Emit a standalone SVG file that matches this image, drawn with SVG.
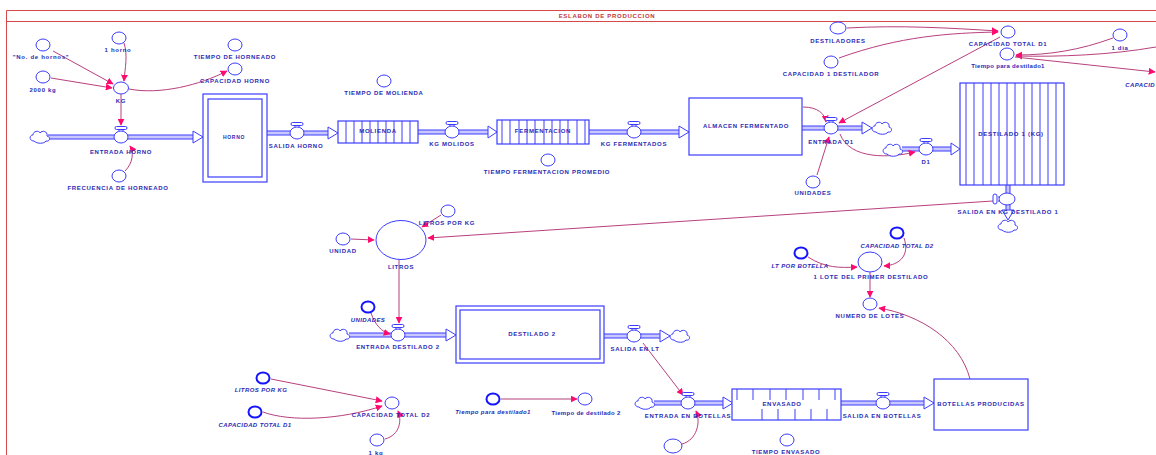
<svg xmlns="http://www.w3.org/2000/svg" width="1156" height="455" viewBox="0 0 1156 455">
<style>
.t{font-family:"Liberation Sans",Arial,sans-serif;font-size:6px;font-weight:bold;fill:#2a2ab4;letter-spacing:0.7px;text-anchor:middle}
.i{font-style:italic;letter-spacing:0.4px}
.aux{fill:#fff;stroke:#3c3cff;stroke-width:1}
.gh{fill:#fff;stroke:#1414ff;stroke-width:2}
.lk{fill:none;stroke:#b8407e;stroke-width:1;marker-end:url(#ah)}
.po{stroke:#3c3cff;stroke-width:5;fill:none}
.pi{stroke:#c8c8ff;stroke-width:3;fill:none}
.fa{fill:#fff;stroke:#3c3cff;stroke-width:1}
.st{fill:#fff;stroke:#3c3cff;stroke-width:1.2}
.cv{stroke:#3c3cff;stroke-width:1;fill:none}
</style>
<defs>
<marker id="ah" viewBox="0 0 10 10" refX="9" refY="5" markerWidth="7" markerHeight="7" orient="auto" markerUnits="userSpaceOnUse"><path d="M0,0 L10,5 L0,10 z" fill="#ff0a6e"/></marker>
<g id="valve" class="aux"><path d="M-2,-7.5v2.5M2,-7.5v2.5"/><rect x="-6" y="-10.5" width="12" height="3" rx="1.5"/><ellipse rx="7" ry="6"/></g>
<path id="cloud" class="aux" d="M-6,4 C-11,4 -11,-2 -7,-2 C-7,-6 -1,-7 0,-4 C2,-7 8,-6 7,-1 C11,0 10,5 6,4 C4,7 -3,7 -6,4 Z"/>
</defs>
<rect width="1156" height="455" fill="#fff"/>
<g id="frame">
<path d="M6.5,455 V10.5 H1156 M6.5,21.5 H1156" stroke="#d84848" fill="none" stroke-width="1"/>
<text x="607" y="18" class="t" style="fill:#c03838">ESLABON DE PRODUCCION</text>
</g>
<g id="connectors">
<g id="flows">
<path class="po" d="M48,137H193M267,133H328M418,132H488M589,132H679M802,128H862M902,149H951M1008,185V210M349,335H446M604,336H660M654,403H723M841,403H924"/>
<path class="pi" d="M48,137H193M267,133H328M418,132H488M589,132H679M802,128H862M902,149H951M1008,185V210M349,335H446M604,336H660M654,403H723M841,403H924"/>
<path class="fa" d="M193,131L203,137L193,143ZM328,127L338,133L328,139ZM488,126L497,132L488,138ZM679,126L689,132L679,138ZM862,122L872,128L862,134ZM951,143L960,149L951,155ZM1002,210L1008,220L1014,210ZM446,329L456,335L446,341ZM660,330L670,336L660,342ZM723,397L733,403L723,409ZM924,397L934,403L924,409Z"/>
</g>
<g id="links">
<path class="lk" d="M53,51 L113,84"/>
<path class="lk" d="M51,78 L112,88"/>
<path class="lk" d="M124,43 C128,55 125,68 124,81"/>
<path class="lk" d="M129,89 C160,95 200,85 227,71"/>
<path class="lk" d="M121,94 L121,125"/>
<path class="lk" d="M125,171 C133,163 134,152 130,146"/>
<path class="lk" d="M847,28 C900,25 950,28 998,31"/>
<path class="lk" d="M839,58 C900,36 950,33 998,32"/>
<path class="lk" d="M1000,37 L839,123"/>
<path class="lk" d="M1113,38 C1080,50 1050,55 1016,55"/>
<path class="lk" d="M1156,47 C1110,55 1060,57 1016,56"/>
<path class="lk" d="M1015,57 L1155,72"/>
<path class="lk" d="M803,107 C818,107 825,114 826,122"/>
<path class="lk" d="M817,175 L829,137"/>
<path class="lk" d="M840,134 C850,160 890,158 915,152"/>
<path class="lk" d="M993,201 L428,238"/>
<path class="lk" d="M441,215 L422,227"/>
<path class="lk" d="M351,239 L374,240"/>
<path class="lk" d="M399,260 L399,323"/>
<path class="lk" d="M371,313 C375,325 382,332 390,334"/>
<path class="lk" d="M643,343 L683,395"/>
<path class="lk" d="M682,444 C697,440 701,422 696,411"/>
<path class="lk" d="M970,379 C960,340 920,315 879,308"/>
<path class="lk" d="M808,257 C825,268 840,268 857,267"/>
<path class="lk" d="M904,238 C910,255 900,265 884,266"/>
<path class="lk" d="M870,272 L870,297"/>
<path class="lk" d="M271,379 L382,401"/>
<path class="lk" d="M263,412 C290,422 340,420 382,406"/>
<path class="lk" d="M385,439 C400,435 402,420 398,411"/>
<path class="lk" d="M501,399 L577,399"/>
</g>
</g>
<g id="clouds">
<use href="#cloud" x="40" y="137"/>
<use href="#cloud" x="882" y="128"/>
<use href="#cloud" x="893" y="150"/>
<use href="#cloud" x="1008" y="226"/>
<use href="#cloud" x="340" y="335"/>
<use href="#cloud" x="680" y="336"/>
<use href="#cloud" x="645" y="403"/>
</g>
<g id="n_hornos"><ellipse class="aux" cx="43" cy="45" rx="7" ry="6"/><text class="t" x="41" y="59">"No. de hornos"</text></g>
<g id="un_horno"><ellipse class="aux" cx="119" cy="38" rx="7" ry="6"/><text class="t" x="118" y="52">1 horno</text></g>
<g id="kg2000"><ellipse class="aux" cx="43" cy="77" rx="7" ry="6"/><text class="t" x="43" y="92">2000 kg</text></g>
<g id="kg"><ellipse class="aux" cx="121" cy="88" rx="7.5" ry="6"/><text class="t" x="121" y="103">KG</text></g>
<g id="tiempo_horneado"><ellipse class="aux" cx="235" cy="45" rx="7" ry="6"/><text class="t" x="235" y="59">TIEMPO DE HORNEADO</text></g>
<g id="capacidad_horno"><ellipse class="aux" cx="235" cy="69" rx="7" ry="6"/><text class="t" x="235" y="83">CAPACIDAD HORNO</text></g>
<g id="entrada_horno"><use href="#valve" x="121" y="137"/><text class="t" x="121" y="154">ENTRADA HORNO</text></g>
<g id="frecuencia"><ellipse class="aux" cx="119" cy="176" rx="7" ry="6"/><text class="t" x="118" y="190">FRECUENCIA DE HORNEADO</text></g>
<g id="horno"><rect class="st" x="203" y="94" width="64" height="88"/><rect class="st" x="208" y="99" width="54" height="78"/><text class="t" x="234" y="139" style="font-size:5px">HORNO</text></g>
<g id="salida_horno"><use href="#valve" x="297" y="133"/><text class="t" x="296" y="148">SALIDA HORNO</text></g>
<g id="tiempo_molienda"><ellipse class="aux" cx="384" cy="81" rx="7" ry="6"/><text class="t" x="384" y="95">TIEMPO DE MOLIENDA</text></g>
<g id="molienda"><rect class="st" x="338" y="121" width="80" height="22"/><path class="cv" d="M346,121v22M354,121v22M362,121v22M370,121v22M378,121v22M386,121v22M394,121v22M402,121v22M410,121v22"/><text class="t" x="378" y="133">MOLIENDA</text></g>
<g id="kg_molidos"><use href="#valve" x="452" y="132"/><text class="t" x="452" y="146">KG MOLIDOS</text></g>
<g id="fermentacion"><rect class="st" x="497" y="120" width="92" height="24"/><path class="cv" d="M502,120v24M510,120v24M519,120v24M527,120v24M535,120v24M544,120v24M552,120v24M560,120v24M568,120v24M577,120v24M585,120v24"/><text class="t" x="543" y="133">FERMENTACION</text></g>
<g id="tiempo_ferm"><ellipse class="aux" cx="548" cy="160" rx="7" ry="6"/><text class="t" x="547" y="174">TIEMPO FERMENTACION PROMEDIO</text></g>
<g id="kg_fermentados"><use href="#valve" x="634" y="132"/><text class="t" x="634" y="146">KG FERMENTADOS</text></g>
<g id="almacen"><rect class="st" x="689" y="98" width="113" height="57"/><text class="t" x="746" y="128">ALMACEN FERMENTADO</text></g>
<g id="entrada_d1"><use href="#valve" x="831" y="128"/><text class="t" x="831" y="144">ENTRADA D1</text></g>
<g id="unidades"><ellipse class="aux" cx="813" cy="182" rx="7" ry="6"/><text class="t" x="813" y="195">UNIDADES</text></g>
<g id="destiladores"><ellipse class="aux" cx="838" cy="28" rx="8" ry="6"/><text class="t" x="838" y="43">DESTILADORES</text></g>
<g id="cap1dest"><ellipse class="aux" cx="831" cy="62" rx="7" ry="6"/><text class="t" x="831" y="76">CAPACIDAD 1 DESTILADOR</text></g>
<g id="captotd1"><ellipse class="aux" cx="1008" cy="32" rx="7" ry="6"/><text class="t" x="1008" y="46">CAPACIDAD TOTAL D1</text></g>
<g id="tiempo_d1"><ellipse class="aux" cx="1007" cy="54" rx="7" ry="6"/><text class="t" x="1008" y="68" style="letter-spacing:0.3px">Tiempo para destilado1</text></g>
<g id="un_dia"><ellipse class="aux" cx="1120" cy="35" rx="7" ry="6"/><text class="t" x="1120" y="50">1 dia</text></g>
<g id="capacidad_cut"><text class="t i" x="1155" y="87" style="text-anchor:end">CAPACID</text></g>
<g id="d1"><use href="#valve" x="926" y="149"/><text class="t" x="926" y="164">D1</text></g>
<g id="destilado1"><rect class="st" x="960" y="83" width="104" height="102"/><path class="cv" d="M966,83v102M974,83v102M983,83v102M991,83v102M999,83v102M1007,83v102M1015,83v102M1024,83v102M1032,83v102M1040,83v102M1048,83v102M1056,83v102"/><text class="t" x="1011" y="136">DESTILADO 1 (KG)</text></g>
<g id="salida_kg_d1"><g class="aux"><path d="M998,197h3M998,201h3"/><rect x="993" y="194" width="4" height="10" rx="2"/><ellipse cx="1007" cy="199" rx="8" ry="6"/></g><text class="t" x="1008" y="214">SALIDA EN KG DESTILADO 1</text></g>
<g id="litros"><ellipse class="aux" cx="401" cy="240" rx="25" ry="19.5"/><text class="t" x="401" y="269">LITROS</text></g>
<g id="litros_por_kg"><ellipse class="aux" cx="448" cy="211" rx="7" ry="6"/><text class="t" x="447" y="225">LITROS POR KG</text></g>
<g id="unidad"><ellipse class="aux" cx="343" cy="239" rx="7" ry="6"/><text class="t" x="343" y="253">UNIDAD</text></g>
<g id="unidades_gh"><ellipse class="gh" cx="368" cy="307" rx="6.5" ry="5.5"/><text class="t i" x="368" y="322">UNIDADES</text></g>
<g id="entrada_d2"><use href="#valve" x="398" y="335"/><text class="t" x="398" y="349">ENTRADA DESTILADO 2</text></g>
<g id="destilado2"><rect class="st" x="456" y="306" width="148" height="57"/><rect class="st" x="460" y="310" width="140" height="49"/><text class="t" x="532" y="336">DESTILADO 2</text></g>
<g id="salida_lt"><use href="#valve" x="634" y="336"/><text class="t" x="635" y="351">SALIDA EN LT</text></g>
<g id="lt_por_botella"><ellipse class="gh" cx="801" cy="253" rx="6.5" ry="5.5"/><text class="t i" x="800" y="268">LT POR BOTELLA</text></g>
<g id="captotd2_gh"><ellipse class="gh" cx="897" cy="233" rx="6.5" ry="5.5"/><text class="t i" x="897" y="248">CAPACIDAD TOTAL D2</text></g>
<g id="un_lote"><ellipse class="aux" cx="870" cy="262" rx="12" ry="10"/><text class="t" x="871" y="279">1 LOTE DEL PRIMER DESTILADO</text></g>
<g id="numero_lotes"><ellipse class="aux" cx="870" cy="304" rx="7" ry="6"/><text class="t" x="870" y="318">NUMERO DE LOTES</text></g>
<g id="litros_kg_gh"><ellipse class="gh" cx="263" cy="378" rx="6.5" ry="5.5"/><text class="t i" x="261" y="392">LITROS POR KG</text></g>
<g id="captotd1_gh"><ellipse class="gh" cx="255" cy="412" rx="6.5" ry="5.5"/><text class="t i" x="255" y="427">CAPACIDAD TOTAL D1</text></g>
<g id="captotd2"><ellipse class="aux" cx="392" cy="403" rx="7" ry="6"/><text class="t" x="391" y="417">CAPACIDAD TOTAL D2</text></g>
<g id="un_kg"><ellipse class="aux" cx="377" cy="440" rx="7" ry="6"/><text class="t" x="376" y="455">1 kg</text></g>
<g id="tiempo_d1_gh"><ellipse class="gh" cx="493" cy="399" rx="6.5" ry="5.5"/><text class="t i" x="493" y="414">Tiempo para destilado1</text></g>
<g id="tiempo_d2"><ellipse class="aux" cx="585" cy="399" rx="7" ry="6"/><text class="t" x="586" y="415" style="letter-spacing:0.3px">Tiempo de destilado 2</text></g>
<g id="entrada_botellas"><use href="#valve" x="688" y="403"/><text class="t" x="688" y="418">ENTRADA EN BOTELLAS</text></g>
<g id="aux_bottom"><ellipse class="aux" cx="673" cy="446" rx="9" ry="7"/></g>
<g id="envasado"><rect class="st" x="732" y="389" width="109" height="31"/><path class="cv" d="M737,389v11M753,389v11M770,389v11M786,389v11M803,389v11M819,389v11M835,389v11M762,409v11M778,409v11M795,409v11M811,409v11M827,409v11"/><text class="t" x="782" y="406">ENVASADO</text></g>
<g id="tiempo_envasado"><ellipse class="aux" cx="787" cy="440" rx="7" ry="6"/><text class="t" x="786" y="454">TIEMPO ENVASADO</text></g>
<g id="salida_botellas"><use href="#valve" x="883" y="403"/><text class="t" x="882" y="418">SALIDA EN BOTELLAS</text></g>
<g id="botellas"><rect class="st" x="934" y="379" width="94" height="51"/><text class="t" x="981" y="406">BOTELLAS PRODUCIDAS</text></g>
</svg>
